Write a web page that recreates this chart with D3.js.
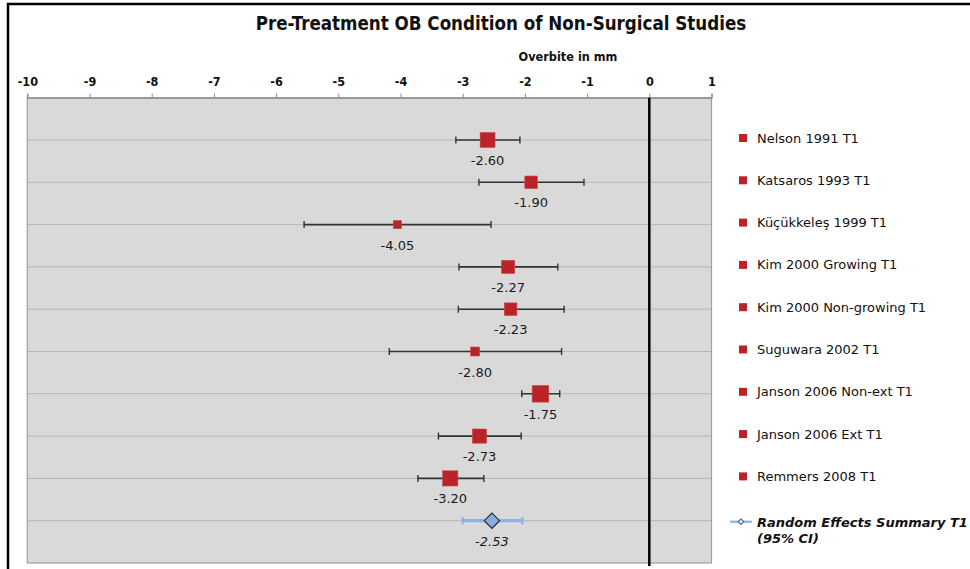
<!DOCTYPE html>
<html>
<head>
<meta charset="utf-8">
<script src="https://cdn.jsdelivr.net/npm/d3@7/dist/d3.min.js"></script>
<style>
  html, body { margin: 0; padding: 0; background: #fff; }
  svg { display: block; }
</style>
</head>
<body>
<svg id="chart" width="970" height="569"></svg>
<script>
// Forest plot: pre-treatment overbite (mm) per non-surgical study, with 95% CI
const studies = [
  "Nelson 1991 T1",
  "Katsaros 1993 T1",
  "Küçükkeleş 1999 T1",
  "Kim 2000 Growing T1",
  "Kim 2000 Non-growing T1",
  "Suguwara 2002 T1",
  "Janson 2006 Non-ext T1",
  "Janson 2006 Ext T1",
  "Remmers 2008 T1"
];
const means  = [-2.60, -1.90, -4.05, -2.27, -2.23, -2.80, -1.75, -2.73, -3.20];
const ciLow  = [-3.11, -2.74, -5.55, -3.06, -3.07, -4.18, -2.05, -3.39, -3.72];
const ciHigh = [-2.08, -1.05, -2.545, -1.47, -1.37, -1.41, -1.44, -2.06, -2.66];
// relative study weights (%), shown as marker area
const weights = [14.1, 10.1, 4.3, 11.1, 10.1, 5.1, 17.5, 12.8, 14.7];

const summaryLabel = ["Random Effects Summary T1", "(95% CI)"];
const summaryMean = -2.53;
const summaryLow = -3.00;
const summaryHigh = -2.04;

const xTicks = [-10, -9, -8, -7, -6, -5, -4, -3, -2, -1, 0, 1];

const svg = d3.select("#chart");
const W = 970, H = 569;
const plot = { left: 27.3, right: 711.5, top: 97.7, bottom: 563 };

const x = d3.scaleLinear().domain([-10, 1]).range([plot.left, plot.right]);
const y = d3.scaleLinear().domain([0, 11]).range([plot.top, plot.bottom]);
const side = d3.scaleSqrt().domain([0, 17.5]).range([0, 16.6]);

// plain hyphen-minus for negative numbers
const hyph = f => v => f(v).replace("\u2212", "-");
const fmtTick = hyph(d3.format("d"));
const fmtVal = hyph(d3.format(".2f"));

const RED = "#ba2327";
const BAR = "#333";
const BLUE = "#8fb2e4";

// outer frame
svg.append("rect")
  .attr("x", 8).attr("y", 4)
  .attr("width", W + 20).attr("height", H + 20)
  .attr("fill", "#fff").attr("stroke", "#000").attr("stroke-width", 2.5);

// title
svg.append("text")
  .attr("x", 501).attr("y", 30)
  .attr("text-anchor", "middle")
  .attr("font-family", "DejaVu Sans Condensed, DejaVu Sans")
  .attr("font-stretch", "condensed")
  .attr("font-weight", "bold")
  .attr("font-size", 18.6)
  .attr("fill", "#111")
  .text("Pre-Treatment OB Condition of Non-Surgical Studies");

// axis title
svg.append("text")
  .attr("x", 568).attr("y", 61)
  .attr("text-anchor", "middle")
  .attr("font-family", "DejaVu Sans Condensed, DejaVu Sans")
  .attr("font-stretch", "condensed")
  .attr("font-weight", "bold")
  .attr("font-size", 12.6)
  .attr("fill", "#111")
  .text("Overbite in mm");

// plot area
svg.append("rect")
  .attr("x", plot.left).attr("y", plot.top)
  .attr("width", plot.right - plot.left).attr("height", plot.bottom - plot.top)
  .attr("fill", "#d9d9d9").attr("stroke", "#a0a0a0").attr("stroke-width", 1.2);

// horizontal row lines
const rows = d3.range(1, studies.length + 2);
svg.append("g").selectAll("line")
  .data(rows)
  .join("line")
  .attr("x1", plot.left).attr("x2", plot.right)
  .attr("y1", d => y(d)).attr("y2", d => y(d))
  .attr("stroke", "#ababab").attr("stroke-width", 1)
  .attr("stroke-dasharray", "1.5,0.5");

// top axis
const axis = svg.append("g")
  .attr("transform", `translate(0,${plot.top})`)
  .call(d3.axisTop(x).tickValues(xTicks).tickSize(4).tickPadding(8).tickFormat(fmtTick));
axis.select(".domain").attr("stroke", "#888").attr("stroke-width", 1.2);
axis.selectAll(".tick line").attr("stroke", "#888");
axis.selectAll(".tick text")
  .attr("font-family", "DejaVu Sans Condensed, DejaVu Sans")
  .attr("font-stretch", "condensed")
  .attr("font-weight", "bold")
  .attr("font-size", 12.5)
  .attr("fill", "#111");

// zero reference line
svg.append("line")
  .attr("x1", x(0)).attr("x2", x(0))
  .attr("y1", plot.top).attr("y2", plot.bottom + 3)
  .attr("stroke", "#000").attr("stroke-width", 2.5);

// study rows
const data = studies.map((s, i) => ({
  name: s, mean: means[i], lo: ciLow[i], hi: ciHigh[i], w: weights[i], row: i + 1
}));

const g = svg.append("g");
const capH = 3.5;
g.selectAll("line.ci")
  .data(data).join("line").attr("class", "ci")
  .attr("x1", d => x(d.lo)).attr("x2", d => x(d.hi))
  .attr("y1", d => y(d.row)).attr("y2", d => y(d.row))
  .attr("stroke", BAR).attr("stroke-width", 1.6);
g.selectAll("line.capL")
  .data(data).join("line").attr("class", "capL")
  .attr("x1", d => x(d.lo)).attr("x2", d => x(d.lo))
  .attr("y1", d => y(d.row) - capH).attr("y2", d => y(d.row) + capH)
  .attr("stroke", BAR).attr("stroke-width", 1.4);
g.selectAll("line.capR")
  .data(data).join("line").attr("class", "capR")
  .attr("x1", d => x(d.hi)).attr("x2", d => x(d.hi))
  .attr("y1", d => y(d.row) - capH).attr("y2", d => y(d.row) + capH)
  .attr("stroke", BAR).attr("stroke-width", 1.4);
g.selectAll("rect.pt")
  .data(data).join("rect").attr("class", "pt")
  .attr("x", d => x(d.mean) - side(d.w) / 2)
  .attr("y", d => y(d.row) - side(d.w) / 2)
  .attr("width", d => side(d.w)).attr("height", d => side(d.w))
  .attr("fill", RED).attr("stroke", "#c94a4c").attr("stroke-width", 0.6);
g.selectAll("text.val")
  .data(data).join("text").attr("class", "val")
  .attr("x", d => x(d.mean)).attr("y", d => y(d.row) + 25)
  .attr("text-anchor", "middle")
  .attr("font-family", "DejaVu Sans")
  .attr("font-size", 13)
  .attr("fill", "#1a1a1a")
  .text(d => fmtVal(d.mean));

// random effects summary
const sRow = studies.length + 1;
const sy = y(sRow);
g.append("line")
  .attr("x1", x(summaryLow)).attr("x2", x(summaryHigh))
  .attr("y1", sy).attr("y2", sy)
  .attr("stroke", BLUE).attr("stroke-width", 3.2);
[summaryLow, summaryHigh].forEach(v => {
  g.append("line")
    .attr("x1", x(v)).attr("x2", x(v))
    .attr("y1", sy - 3.5).attr("y2", sy + 3.5)
    .attr("stroke", BLUE).attr("stroke-width", 2.2);
});
g.append("path")
  .attr("d", d3.symbol(d3.symbolDiamond2, 150)())
  .attr("transform", `translate(${x(summaryMean)},${sy})`)
  .attr("fill", "#88aee3").attr("stroke", "#222").attr("stroke-width", 1.1);
g.append("text")
  .attr("x", x(summaryMean)).attr("y", sy + 25)
  .attr("text-anchor", "middle")
  .attr("font-family", "DejaVu Sans")
  .attr("font-style", "italic")
  .attr("font-size", 13)
  .attr("fill", "#1a1a1a")
  .text(fmtVal(summaryMean));

// legend
const lg = svg.append("g");
const lx = 739;
lg.selectAll("rect")
  .data(data).join("rect")
  .attr("x", lx).attr("y", d => y(d.row) - 2 - 4)
  .attr("width", 8).attr("height", 8)
  .attr("fill", RED);
lg.selectAll("text.item")
  .data(data).join("text").attr("class", "item")
  .attr("x", 757).attr("y", d => y(d.row) - 2 + 4.5)
  .attr("font-family", "DejaVu Sans")
  .attr("font-size", 13)
  .attr("fill", "#111")
  .text(d => d.name);

const ly = sy + 1;
lg.append("line")
  .attr("x1", 730).attr("x2", 752).attr("y1", ly).attr("y2", ly)
  .attr("stroke", BLUE).attr("stroke-width", 2.2);
lg.append("path")
  .attr("d", d3.symbol(d3.symbolDiamond2, 22)())
  .attr("transform", `translate(741,${ly})`)
  .attr("fill", "#c8d8f0").attr("stroke", "#334").attr("stroke-width", 1);
lg.selectAll("text.sum")
  .data(summaryLabel).join("text").attr("class", "sum")
  .attr("x", 757).attr("y", (d, i) => ly + 5 + i * 16.5)
  .attr("font-family", "DejaVu Sans")
  .attr("font-weight", "bold")
  .attr("font-style", "italic")
  .attr("font-size", 13)
  .attr("fill", "#111")
  .text(d => d);
</script>
</body>
</html>
